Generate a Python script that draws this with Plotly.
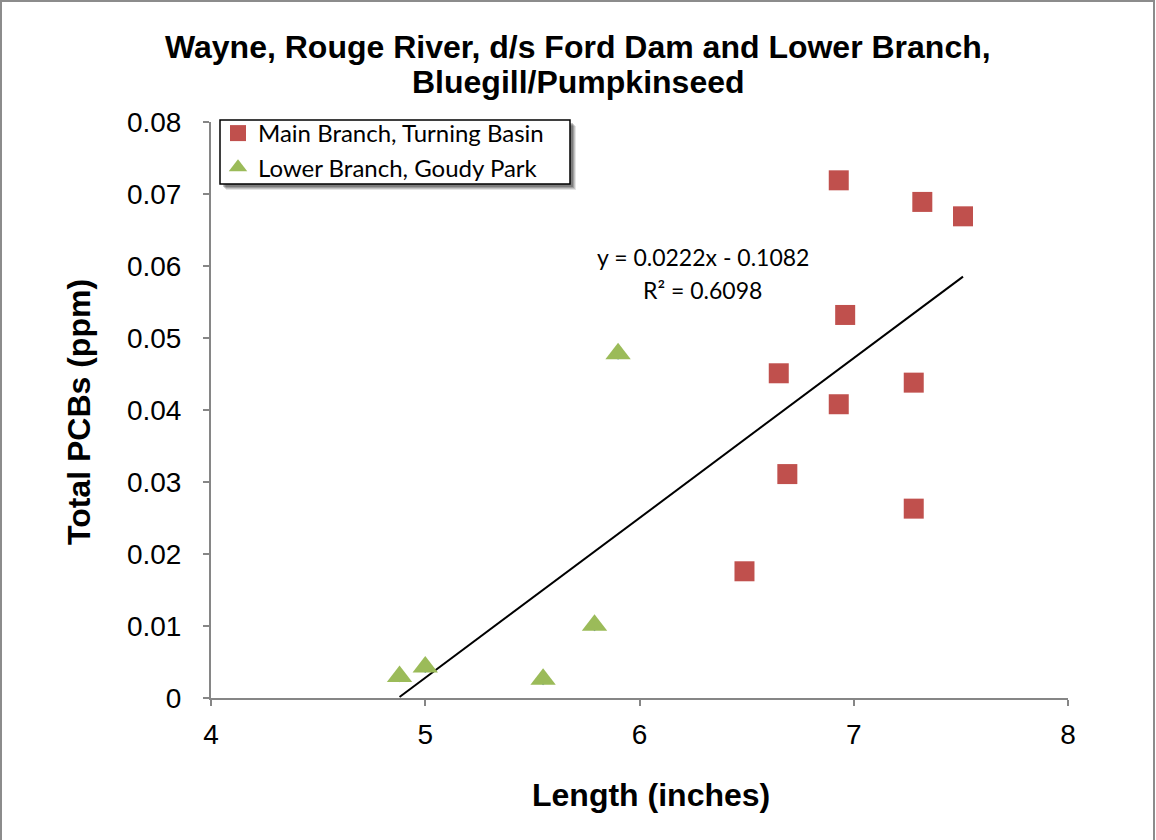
import plotly.graph_objects as go

# Main Branch, Turning Basin (length in inches, total PCBs in ppm)
main_len = [6.93, 7.32, 7.51, 6.96, 6.65, 6.93, 7.28, 6.69, 6.49, 7.28]
main_pcb = [0.0719, 0.0689, 0.0669, 0.0532, 0.0451, 0.0408, 0.0438, 0.0311, 0.0176, 0.0263]

# Lower Branch, Goudy Park
lower_len = [4.88, 5.00, 5.55, 5.79, 5.90]
lower_pcb = [0.0030, 0.0043, 0.0026, 0.0101, 0.0478]

# linear trendline shown on the chart
slope = 0.0222
intercept = -0.1082
r_squared = 0.6098

title_lines = ["Wayne, Rouge River, d/s Ford Dam and Lower Branch,", "Bluegill/Pumpkinseed"]

all_len = main_len + lower_len
trend_x = [min(all_len), max(all_len)]
trend_y = [slope * x + intercept for x in trend_x]

W, H = 1156, 840
ML, MR, MT, MB = 211, 88, 122, 142
PW, PH = W - ML - MR, H - MT - MB

AXIS_GRAY = "#868686"
ARIAL = "Liberation Sans, Arial, sans-serif"
CAL_FONT = "Lato, Open Sans, sans-serif"
TICK_FONT = dict(family=ARIAL, size=28, color="black")
BOLD = dict(family=ARIAL, size=32, color="black", weight="bold")


def px_x(px):
    return (px - ML) / PW


def px_y(py):
    return (H - MB - py) / PH


fig = go.Figure()

fig.add_trace(go.Scatter(
    x=trend_x, y=trend_y, mode="lines",
    line=dict(color="black", width=2),
    showlegend=False, hoverinfo="skip",
))
fig.add_trace(go.Scatter(
    x=main_len, y=main_pcb, mode="markers",
    name="Main Branch, Turning Basin",
    marker=dict(symbol="square", size=20, color="#C0504D"),
))
fig.add_trace(go.Scatter(
    x=lower_len, y=lower_pcb, mode="markers",
    marker=dict(symbol="diamond", size=9, color="#4F81BD"),
    showlegend=False,
))
fig.add_trace(go.Scatter(
    x=lower_len, y=lower_pcb, mode="markers",
    name="Lower Branch, Goudy Park",
    marker=dict(symbol="triangle-up", size=22, color="#9BBB59"),
))

fig.update_xaxes(
    range=[4, 8], dtick=1, showline=True, linecolor=AXIS_GRAY, linewidth=2,
    ticks="outside", ticklen=6, tickcolor=AXIS_GRAY, tickwidth=2,
    showgrid=False, zeroline=False, tickfont=TICK_FONT, ticklabelstandoff=4,
)
fig.update_yaxes(
    range=[0, 0.08], dtick=0.01, showline=True, linecolor=AXIS_GRAY, linewidth=2,
    ticks="outside", ticklen=6, tickcolor=AXIS_GRAY, tickwidth=2,
    showgrid=False, zeroline=False, tickfont=TICK_FONT, ticklabelstandoff=16,
)

fig.add_annotation(
    text="Total PCBs (ppm)", textangle=-90,
    xref="paper", yref="paper", x=px_x(79), y=px_y(412),
    xanchor="center", yanchor="middle", showarrow=False, font=BOLD,
)
fig.add_annotation(
    text="Length (inches)",
    xref="paper", yref="paper", x=px_x(651), y=px_y(795),
    xanchor="center", yanchor="middle", showarrow=False, font=BOLD,
)
for line, py in zip(title_lines, [47, 82]):
    fig.add_annotation(
        text=line, xref="paper", yref="paper", x=px_x(W / 2), y=px_y(py),
        xanchor="center", yanchor="middle", showarrow=False, font=BOLD,
    )

fig.add_annotation(
    text="y = 0.0222x - 0.1082", x=6.296, y=0.0612,
    showarrow=False, xanchor="center", yanchor="middle",
    font=dict(family=CAL_FONT, size=23, color="black"),
)
fig.add_annotation(
    text="R² = 0.6098", x=6.296, y=0.0566,
    showarrow=False, xanchor="center", yanchor="middle",
    font=dict(family=CAL_FONT, size=23, color="black"),
)

# outer chart frame
fig.add_shape(
    type="rect", xref="paper", yref="paper",
    x0=px_x(1), x1=px_x(W - 2), y0=px_y(H + 3), y1=px_y(1),
    line=dict(color="#8c8c8c", width=2), layer="below",
)

# legend box with soft shadow (legend itself is transparent, drawn on top)
LEG = (220, 120, 570, 184)
for off, alpha in [(6, 0.10), (5, 0.14), (4, 0.18), (3, 0.22)]:
    fig.add_shape(
        type="rect", xref="paper", yref="paper",
        x0=px_x(LEG[0] + off), x1=px_x(LEG[2] + off),
        y0=px_y(LEG[3] + off), y1=px_y(LEG[1] + off),
        line=dict(width=0), fillcolor=f"rgba(0,0,0,{alpha})", layer="above",
    )
fig.add_shape(
    type="rect", xref="paper", yref="paper",
    x0=px_x(LEG[0]), x1=px_x(LEG[2]), y0=px_y(LEG[3]), y1=px_y(LEG[1]),
    line=dict(color="black", width=1.5), fillcolor="white", layer="above",
)

fig.update_layout(
    width=W, height=H,
    margin=dict(l=ML, r=MR, t=MT, b=MB),
    paper_bgcolor="white", plot_bgcolor="white",
    legend=dict(
        x=px_x(218), y=px_y(111), xanchor="left", yanchor="top",
        bgcolor="rgba(0,0,0,0)", borderwidth=0,
        font=dict(family=CAL_FONT, size=24, color="black"),
        tracegroupgap=0,
    ),
    showlegend=True,
)

fig.write_html(
    "out.html",
    config={"displayModeBar": False},
    post_script="document.body.style.margin='0';document.body.style.overflow='hidden';",
)
